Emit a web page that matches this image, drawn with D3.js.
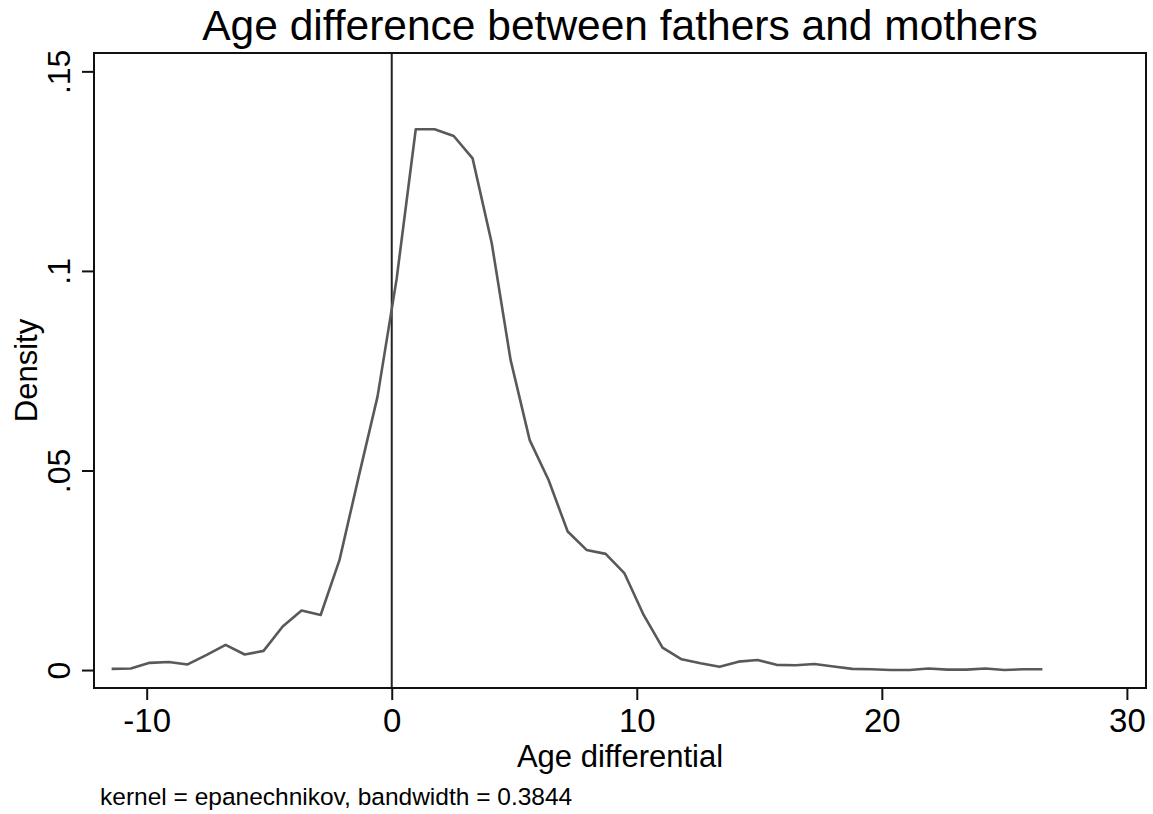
<!DOCTYPE html>
<html>
<head>
<meta charset="utf-8">
<script src="https://cdn.jsdelivr.net/npm/d3@7"></script>
<style>
  html, body { margin: 0; padding: 0; background: #fff; }
  svg { display: block; font-family: "Liberation Sans", Arial, sans-serif; }
</style>
</head>
<body>
<svg id="chart" width="1153" height="814"></svg>
<script>
// ---- data ----
const title = "Age difference between fathers and mothers";
const xLabel = "Age differential";
const yLabel = "Density";
const note = "kernel = epanechnikov, bandwidth = 0.3844";

const xTicks = [-10, 0, 10, 20, 30];
const xTickLabels = ["-10", "0", "10", "20", "30"];
const yTicks = [0, 0.05, 0.1, 0.15];
const yTickLabels = ["0", ".05", ".1", ".15"];

// kernel density evaluation points (age differential)
const ageDiff = [
  -11.43, -10.65, -9.88, -9.10, -8.33, -7.55, -6.78, -6.00, -5.23, -4.45,
  -3.68, -2.90, -2.13, -1.35, -0.58, 0.20, 0.98, 1.75, 2.53, 3.30,
  4.08, 4.85, 5.63, 6.40, 7.18, 7.95, 8.73, 9.50, 10.28, 11.05,
  11.83, 12.60, 13.38, 14.15, 14.93, 15.70, 16.48, 17.25, 18.03, 18.80,
  19.58, 20.35, 21.13, 21.90, 22.68, 23.45, 24.23, 25.00, 25.78, 26.55
];
// estimated density at each point
const density = [
  0.0003, 0.0004, 0.0018, 0.0020, 0.0014, 0.0038, 0.0063, 0.0039, 0.0048, 0.0109,
  0.0149, 0.0138, 0.0276, 0.0484, 0.0685, 0.0980, 0.1355, 0.1355, 0.1338, 0.1282,
  0.1070, 0.0777, 0.0576, 0.0476, 0.0347, 0.0301, 0.0291, 0.0242, 0.0138, 0.0056,
  0.0027, 0.0017, 0.0008, 0.0021, 0.0025, 0.0013, 0.0012, 0.0015, 0.0009, 0.0003,
  0.0002, 0.0000, 0.0000, 0.0004, 0.0001, 0.0001, 0.0004, 0.0000, 0.0002, 0.0002
];
const refLine = 0; // vertical reference line at x = 0

// ---- layout ----
const svg = d3.select("#chart");
const plot = { left: 94, top: 53, right: 1146, bottom: 688 };

const x = d3.scaleLinear().domain([-12.15, 30.78]).range([plot.left, plot.right]);
const y = d3.scaleLinear().domain([-0.0045, 0.1546]).range([plot.bottom, plot.top]);

svg.append("rect").attr("width", 1153).attr("height", 814).attr("fill", "#fff");

// reference line at 0
svg.append("line")
  .attr("x1", x(refLine)).attr("x2", x(refLine))
  .attr("y1", plot.top).attr("y2", plot.bottom)
  .attr("stroke", "#222").attr("stroke-width", 2);

// density curve
const line = d3.line().x((d, i) => x(ageDiff[i])).y(d => y(d));
svg.append("path")
  .datum(density)
  .attr("d", line)
  .attr("fill", "none")
  .attr("stroke", "#595959")
  .attr("stroke-width", 2.6)
  .attr("stroke-linejoin", "round");

// frame
svg.append("rect")
  .attr("x", plot.left).attr("y", plot.top)
  .attr("width", plot.right - plot.left).attr("height", plot.bottom - plot.top)
  .attr("fill", "none").attr("stroke", "#111").attr("stroke-width", 2);

// x axis
const xAxis = d3.axisBottom(x)
  .tickValues(xTicks)
  .tickFormat((d, i) => xTickLabels[i])
  .tickSize(12)
  .tickPadding(9);
const gx = svg.append("g").attr("transform", `translate(0,${plot.bottom})`).call(xAxis);
gx.select(".domain").remove();
gx.selectAll(".tick line").attr("stroke", "#111").attr("stroke-width", 2);
gx.selectAll(".tick text").attr("fill", "#000").style("font-size", "33px")
  .attr("font-family", "Liberation Sans, Arial, sans-serif");

// y axis
const yAxis = d3.axisLeft(y)
  .tickValues(yTicks)
  .tickFormat((d, i) => yTickLabels[i])
  .tickSize(12);
const gy = svg.append("g").attr("transform", `translate(${plot.left},0)`).call(yAxis);
gy.select(".domain").remove();
gy.selectAll(".tick line").attr("stroke", "#111").attr("stroke-width", 2);
gy.selectAll(".tick text")
  .attr("x", null).attr("dy", null)
  .attr("fill", "#000").style("font-size", "32px")
  .attr("font-family", "Liberation Sans, Arial, sans-serif")
  .attr("text-anchor", "middle")
  .attr("transform", "translate(-24,0) rotate(-90)");

// titles
svg.append("text")
  .attr("x", (plot.left + plot.right) / 2).attr("y", 40)
  .attr("text-anchor", "middle")
  .style("font-size", "42.5px").attr("fill", "#000")
  .text(title);

svg.append("text")
  .attr("x", (plot.left + plot.right) / 2).attr("y", 767)
  .attr("text-anchor", "middle")
  .style("font-size", "31px").attr("fill", "#000")
  .text(xLabel);

svg.append("text")
  .attr("transform", `translate(37,${(plot.top + plot.bottom) / 2}) rotate(-90)`)
  .attr("text-anchor", "middle")
  .style("font-size", "31px").attr("fill", "#000")
  .text(yLabel);

svg.append("text")
  .attr("x", 100).attr("y", 805)
  .style("font-size", "24.5px").attr("fill", "#000")
  .text(note);
</script>
</body>
</html>
